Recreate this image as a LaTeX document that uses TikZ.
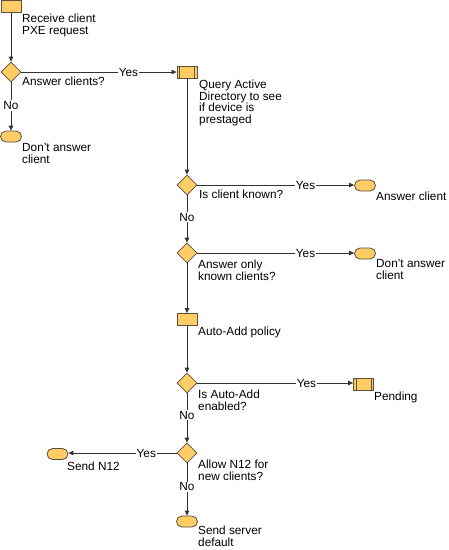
\documentclass[tikz,border=0pt]{standalone}
\usepackage{fontspec}
\setmainfont{Liberation Sans}
\usetikzlibrary{shapes.geometric,arrows.meta}
\definecolor{shapefill}{RGB}{255,204,102}
\definecolor{shapeline}{RGB}{90,80,60}
\definecolor{conn}{RGB}{50,50,50}
\begin{document}
\begin{tikzpicture}[x=1pt,y=-1pt,
  every node/.style={font=\fontsize{11.8}{11.8}\selectfont},
  proc/.style={draw=shapeline,fill=shapefill,line width=0.8pt,rectangle,minimum width=20pt,minimum height=12pt,inner sep=0pt},
  sub/.style={proc},
  term/.style={draw=shapeline,fill=shapefill,line width=0.8pt,rectangle,rounded corners=5.5pt,minimum width=21pt,minimum height=11pt,inner sep=0pt},
  dec/.style={draw=shapeline,fill=shapefill,line width=0.8pt,diamond,minimum width=20pt,minimum height=20pt,inner sep=0pt},
  txt/.style={anchor=north west,inner sep=0pt,align=left},
  lab/.style={fill=white,inner sep=1pt},
  flow/.style={draw=conn,line width=0.8pt,-{Triangle[length=5pt,width=4.5pt]}}
]
\useasboundingbox (0,0) rectangle (449,550);

% shapes
\node[proc] (start) at (11,6.5) {};
\node[dec] (d1) at (11,72) {};
\node[term] (t1) at (11,136.5) {};
\node[sub] (q) at (187,72) {};
\draw[shapeline,line width=0.8pt] ([xshift=3pt]q.north west) -- ([xshift=3pt]q.south west)
  ([xshift=-3pt]q.north east) -- ([xshift=-3pt]q.south east);
\node[dec] (d2) at (187,185) {};
\node[term] (t2) at (365,185.5) {};
\node[dec] (d3) at (187,253) {};
\node[term] (t3) at (365,253.5) {};
\node[proc] (aa) at (187,319.5) {};
\node[dec] (d4) at (187,383) {};
\node[sub] (pend) at (363.5,384.5) {};
\draw[shapeline,line width=0.8pt] ([xshift=3pt]pend.north west) -- ([xshift=3pt]pend.south west)
  ([xshift=-3pt]pend.north east) -- ([xshift=-3pt]pend.south east);
\node[dec] (d5) at (187,453) {};
\node[term] (t4) at (57.5,454) {};
\node[term] (t5) at (187,521.5) {};

% texts
\node[txt] (x1) at (22,13.5) {Receive client\\PXE request};
\node[txt] (x2) at (22,76.5) {Answer clients?};
\node[txt] (x3) at (22,143.5) {Don’t answer\\client};
\node[txt] (x4) at (199,79.5) {Query Active\\Directory to see\\if device is\\prestaged};
\node[txt] (x5) at (199,189.5) {Is client known?};
\node[txt] (x6) at (376,191.5) {Answer client};
\node[txt] (x7) at (198,259.5) {Answer only\\known clients?};
\node[txt] (x8) at (376,259.5) {Don’t answer\\client};
\node[txt] (x9) at (198,326.5) {Auto-Add policy};
\node[txt] (x10) at (198,389.5) {Is Auto-Add\\enabled?};
\node[txt] (x11) at (374,391.5) {Pending};
\node[txt] (x12) at (67,461.5) {Send N12};
\node[txt] (x13) at (198,459.5) {Allow N12 for\\new clients?};
\node[txt] (x14) at (198,525.5) {Send server\\default};

% connectors
\draw[flow] (start) -- (d1);
\draw[flow] (d1) -- node[lab,pos=0.69]{Yes} (q);
\draw[flow] (d1) -- node[lab,pos=0.48]{No} (t1);
\draw[flow] (q) -- (d2);
\draw[flow] (d2) -- node[lab,pos=0.69]{Yes} (t2.west|-d2);
\draw[flow] (d2) -- node[lab,pos=0.46]{No} (d3);
\draw[flow] (d3) -- node[lab,pos=0.69]{Yes} (t3.west|-d3);
\draw[flow] (d3) -- (aa);
\draw[flow] (aa) -- (d4);
\draw[flow] (d4) -- node[lab,pos=0.70]{Yes} (pend.west|-d4);
\draw[flow] (d4) -- node[lab,pos=0.44]{No} (d5);
\draw[flow] (d5) -- node[lab,pos=0.28]{Yes} (t4.east|-d5);
\draw[flow] (d5) -- node[lab,pos=0.45]{No} (t5);
\end{tikzpicture}
\end{document}
